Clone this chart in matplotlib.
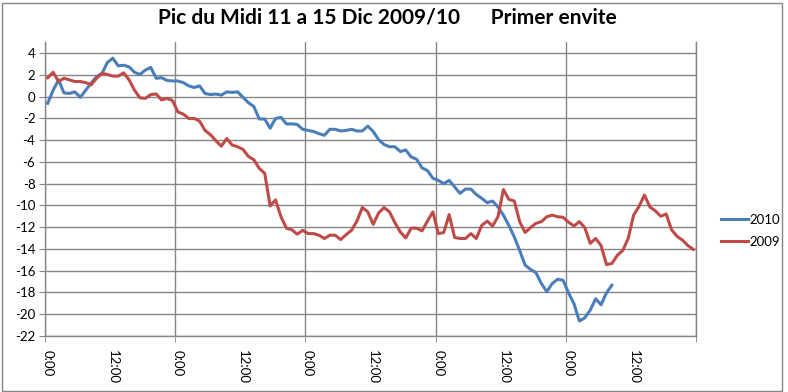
import matplotlib
matplotlib.use("Agg")
import matplotlib.pyplot as plt
from matplotlib.patches import Rectangle
import numpy as np

title = "Pic du Midi 11 a 15 Dic 2009/10      Primer envite"
series_names = ["2010", "2009"]
hour_labels = [f"{h % 24}:00" for h in range(120)]

temp_2010 = [-0.6, 0.6, 1.55, 0.35, 0.3, 0.45, -0.05, 0.6, 1.25, 1.85, 2.15, 3.15, 3.55, 2.85,
             2.9, 2.75, 2.25, 2.05, 2.45, 2.7, 1.7, 1.75, 1.5, 1.45, 1.45, 1.3, 1.0, 0.85, 1.0,
             0.3, 0.2, 0.25, 0.15, 0.45, 0.4, 0.45, -0.05, -0.55, -0.9, -2.05, -2.05, -2.9, -2.0,
             -1.9, -2.5, -2.5, -2.55, -3.0, -3.1, -3.2, -3.4, -3.55, -3.0, -3.0, -3.15, -3.1, -3.0,
             -3.15, -3.15, -2.7, -3.2, -3.95, -4.4, -4.6, -4.6, -5.05, -4.9, -5.55, -5.75, -6.55,
             -6.8, -7.5, -7.7, -8.0, -7.7, -8.3, -8.9, -8.5, -8.5, -9.0, -9.35, -9.75, -9.6,
             -10.15, -10.9, -11.85, -12.9, -14.15, -15.5, -15.9, -16.2, -17.2, -17.95, -17.2,
             -16.8, -16.9, -18.05, -19.05, -20.65, -20.35, -19.65, -18.6, -19.15, -18.05, -17.35]

temp_2009 = [1.75, 2.25, 1.4, 1.7, 1.55, 1.4, 1.4, 1.3, 1.1, 1.7, 2.15, 2.05, 1.9, 1.9, 2.2, 1.55,
             0.6, -0.1, -0.15, 0.2, 0.25, -0.3, -0.15, -0.35, -1.4, -1.6, -2.0, -2.0, -2.25, -3.1,
             -3.5, -4.05, -4.55, -3.85, -4.45, -4.6, -4.85, -5.5, -5.8, -6.6, -7.05, -10.05, -9.5,
             -11.05, -12.1, -12.25, -12.65, -12.3, -12.6, -12.6, -12.75, -13.05, -12.75, -12.75,
             -13.15, -12.7, -12.3, -11.45, -10.2, -10.6, -11.75, -10.7, -10.2, -10.6, -11.6,
             -12.45, -13.0, -12.1, -12.1, -12.35, -11.45, -10.6, -12.6, -12.5, -10.85, -12.95,
             -13.05, -13.05, -12.6, -13.05, -11.85, -11.45, -11.9, -11.05, -8.55, -9.45, -9.6,
             -11.5, -12.5, -12.05, -11.65, -11.5, -11.05, -10.9, -11.05, -11.1, -11.55, -11.9,
             -11.5, -12.05, -13.5, -13.05, -13.7, -15.45, -15.35, -14.6, -14.15, -13.05, -10.9,
             -10.1, -9.05, -10.15, -10.5, -11.0, -10.8, -12.25, -12.85, -13.2, -13.7, -14.05]

y_ticks = list(range(-22, 5, 2))

plt.rcParams['font.family'] = ['Lato', 'DejaVu Sans']

fig = plt.figure(figsize=(7.88, 3.92), dpi=100)
ax = fig.add_axes([45/788, 1-335.7/392, (696-45)/788, (335.7-42)/392])

grid_c = '#868686'
ax.plot(np.arange(len(temp_2010)), temp_2010, color='#4A7EBB', lw=2.2, label=series_names[0],
        solid_joinstyle='round', zorder=3)
ax.plot(np.arange(len(temp_2009)), temp_2009, color='#BE4B48', lw=2.2, label=series_names[1],
        solid_joinstyle='round', zorder=3)

n = len(hour_labels)
ax.set_xlim(-0.5, n - 0.5)
ax.set_ylim(-22, 5.04)
ax.set_yticks(y_ticks)
ax.set_yticklabels([str(v) for v in y_ticks], fontsize=9.5)
ax.yaxis.grid(True, color=grid_c, lw=1)

lab_pos = list(range(0, n, 12))
ax.set_xticks(lab_pos)
ax.set_xticklabels([hour_labels[i] for i in lab_pos], rotation=-90, fontsize=9.5)
ax.tick_params(axis='x', which='major', length=0, pad=10)
ax.set_xticks(np.arange(-0.5, n, 24), minor=True)
ax.tick_params(axis='x', which='minor', length=4, color=grid_c, direction='out')
ax.xaxis.grid(True, which='minor', color=grid_c, lw=1)
ax.tick_params(axis='y', length=4, color=grid_c, pad=3)
ax.set_axisbelow(True)

for s in ['top']:
    ax.spines[s].set_visible(False)
for s in ['left', 'bottom', 'right']:
    ax.spines[s].set_color(grid_c)
    ax.spines[s].set_linewidth(1)

fig.text(387/788, 1-17/392, title, ha='center', va='center', fontsize=15,
         fontweight='bold')

ax.legend(loc='center left', bbox_to_anchor=(714/788, 1-231/392), bbox_transform=fig.transFigure,
          frameon=False, fontsize=9.5, handlelength=2.1, handletextpad=0.1, labelspacing=0.75,
          borderpad=0)

fig.patches.append(Rectangle((2/788, 1/392), 780/788, 388/392, transform=fig.transFigure,
                             fill=False, edgecolor='#868686', lw=1))

fig.savefig('out.png', dpi=100)
